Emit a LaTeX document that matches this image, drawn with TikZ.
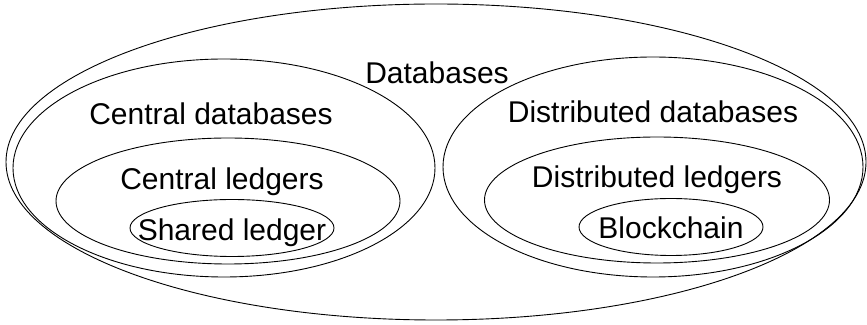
\documentclass[tikz,border=0pt]{standalone}
\usepackage{fontspec}
\setmainfont{Liberation Sans}
\usepackage{tikz}
\usetikzlibrary{positioning, shapes.geometric}
\usepackage{xcolor}

\begin{document}
\begin{tikzpicture}[x=0.5pt, y=-0.5pt,
    set/.style={ellipse, draw=black, line width=0.45pt, inner sep=0pt, outer sep=0pt},
    lbl/.style={anchor=base, text=black, inner sep=0pt, font=\fontsize{15}{18}\selectfont}]
  \useasboundingbox (0, 0) rectangle (867, 325);

  \node[set, minimum width=430pt, minimum height=158pt]   (db)  at (436, 162) {};
  \node[set, minimum width=211pt, minimum height=109pt]   (cdb) at (224, 168) {};
  \node[set, minimum width=172pt, minimum height=63pt]    (cl)  at (228, 201) {};
  \node[set, minimum width=102pt, minimum height=28.5pt]  (sl)  at (232, 228) {};
  \node[set, minimum width=210pt, minimum height=110pt]   (ddb) at (653, 167) {};
  \node[set, minimum width=172.5pt, minimum height=63pt]  (dl)  at (657, 200) {};
  \node[set, minimum width=92pt, minimum height=28.5pt]   (bc)  at (671, 227) {};

  \node[lbl] (dbt)  at (437, 84)  {Databases};
  \node[lbl] (cdbt) at (211, 125) {Central databases};
  \node[lbl] (clt)  at (222, 190) {Central ledgers};
  \node[lbl] (slt)  at (232, 241) {Shared ledger};
  \node[lbl] (ddbt) at (653, 123) {Distributed databases};
  \node[lbl] (dlt)  at (657, 188) {Distributed ledgers};
  \node[lbl] (bct)  at (671, 239) {Blockchain};
\end{tikzpicture}
\end{document}
